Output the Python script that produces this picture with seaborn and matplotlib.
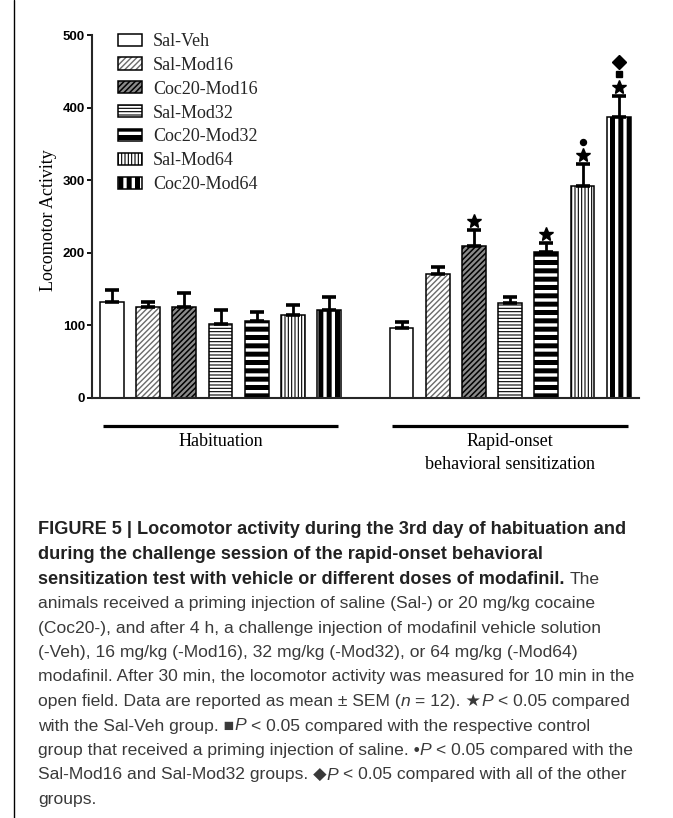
import pandas as pd
import matplotlib
matplotlib.use("Agg")
import matplotlib.pyplot as plt
import matplotlib.patches as mpatches
import matplotlib.colors as mcolors
from matplotlib.lines import Line2D
import seaborn as sns

# ---- data ----
treatments = ["Sal-Veh", "Sal-Mod16", "Coc20-Mod16", "Sal-Mod32",
              "Coc20-Mod32", "Sal-Mod64", "Coc20-Mod64"]
groups = ["Habituation", "Rapid-onset\nbehavioral sensitization"]
hab_mean = [132, 125, 125, 102, 106, 115, 121]
hab_sem = [17, 7, 20, 19, 12, 13, 18]
sens_mean = [96, 171, 209, 131, 201, 292, 387]
sens_sem = [9, 9, 22, 8, 12, 30, 29]
sens_marks = [[], [], ["star"], [], ["star"], ["star", "dot"],
              ["star", "square", "diamond"]]
yticks = [0, 100, 200, 300, 400, 500]

caption = [
    [("FIGURE 5 | Locomotor activity during the 3rd day of habituation and", "b")],
    [("during the challenge session of the rapid-onset behavioral", "b")],
    [("sensitization test with vehicle or different doses of modafinil.", "b"), (" The", "r")],
    [("animals received a priming injection of saline (Sal-) or 20 mg/kg cocaine", "r")],
    [("(Coc20-), and after 4 h, a challenge injection of modafinil vehicle solution", "r")],
    [("(-Veh), 16 mg/kg (-Mod16), 32 mg/kg (-Mod32), or 64 mg/kg (-Mod64)", "r")],
    [("modafinil. After 30 min, the locomotor activity was measured for 10 min in the", "r")],
    [("open field. Data are reported as mean \u00b1 SEM (", "r"), ("n", "i"),
     (" = 12). \u2605", "r"), ("P", "i"), (" < 0.05 compared", "r")],
    [("with the Sal-Veh group. \u25a0", "r"), ("P", "i"),
     (" < 0.05 compared with the respective control", "r")],
    [("group that received a priming injection of saline. \u2022", "r"), ("P", "i"),
     (" < 0.05 compared with the", "r")],
    [("Sal-Mod16 and Sal-Mod32 groups. \u25c6", "r"), ("P", "i"),
     (" < 0.05 compared with all of the other", "r")],
    [("groups.", "r")],
]

# ---- styles ----
styles = {
    "Sal-Veh": dict(face="white", hatch=None, hcolor="black", hlw=1),
    "Sal-Mod16": dict(face="white", hatch="//////", hcolor="#6a6a6a", hlw=1.0),
    "Coc20-Mod16": dict(face="#8a8a8a", hatch="//////", hcolor="black", hlw=1.1),
    "Sal-Mod32": dict(face="white", hatch="-----", hcolor="black", hlw=0.8),
    "Coc20-Mod32": dict(face="white", hatch="--", hcolor="black", hlw=3.6),
    "Sal-Mod64": dict(face="white", hatch="|||||", hcolor="black", hlw=0.8),
    "Coc20-Mod64": dict(face="white", hatch="||", hcolor="black", hlw=3.6),
}
mark_style = {"star": ("*", 10), "dot": ("o", 4.3), "square": ("s", 4.3),
              "diamond": ("D", 6.8)}


def style_patch(p, st):
    p.set_facecolor(st["face"])
    p.set_edgecolor("black")
    if st["hatch"]:
        p.set_hatch(st["hatch"])
        if hasattr(p, "set_hatchcolor"):
            p.set_hatchcolor(st["hcolor"])
        else:
            p._hatch_color = mcolors.to_rgba(st["hcolor"])
        if hasattr(p, "set_hatch_linewidth"):
            p.set_hatch_linewidth(st["hlw"])
        else:
            p._hatch_linewidth = st["hlw"]


sns.set_theme(style="ticks")
plt.rcParams["font.family"] = ["Liberation Sans", "DejaVu Sans"]
plt.rcParams["axes.linewidth"] = 1.5

fig = plt.figure(figsize=(6.73, 8.18), dpi=100)
W, H = 673, 818
ax = fig.add_axes([92 / W, 1 - 398 / H, (639 - 92) / W, 363 / H])

slots, means, sems, treat_of = [], [], [], {}
order = []
for g, (m_list, s_list) in enumerate([(hab_mean, hab_sem), (sens_mean, sens_sem)]):
    if g > 0:
        order.append("gap")
    for t, m, s in zip(treatments, m_list, s_list):
        key = f"{g}-{t}"
        slots.append(key)
        means.append(m)
        sems.append(s)
        order.append(key)
        treat_of[key] = t

df = pd.DataFrame({"slot": slots, "value": means})
sns.barplot(data=df, x="slot", y="value", order=order, errorbar=None,
            color="white", saturation=1, width=0.66, edgecolor="black",
            linewidth=1.1, ax=ax)

for p in ax.patches:
    idx = int(round(p.get_x() + p.get_width() / 2))
    style_patch(p, styles[treat_of[order[idx]]])

pos = [order.index(s) for s in slots]
ax.errorbar(pos, means, yerr=[[0] * len(sems), sems], fmt="none",
            ecolor="black", elinewidth=2, capsize=5, capthick=2.6, zorder=3)

# significance symbols above sensitization bars
n = len(treatments)
for i, marks in enumerate(sens_marks):
    top = sens_mean[i] + sens_sem[i]
    for k, mk in enumerate(marks):
        m, ms = mark_style[mk]
        ax.plot(pos[n + i], top + 13 + 17 * k, marker=m, ms=ms, color="black",
                ls="none", clip_on=False)

ax.set_xlim(-0.55, 14.56)
ax.set_ylim(0, 500)
ax.set_yticks(yticks)
ax.set_xticks([])
ax.set_xlabel("")
sns.despine(ax=ax)
ax.tick_params(axis="y", length=3.6, width=1.3, pad=1.5, labelsize=9.5,
               colors="black")
for lbl in ax.get_yticklabels():
    lbl.set_fontweight("bold")
ax.set_ylabel("Locomotor Activity", family="Liberation Serif", fontsize=13,
              color="black")
ax.yaxis.set_label_coords(-35 / 547, 0.49)

# group brackets and labels under the axis
trans = ax.get_xaxis_transform()
for g, name in enumerate(groups):
    gp = pos[g * n:(g + 1) * n]
    ax.plot([gp[0] - 0.25, gp[-1] + 0.25], [-0.077, -0.077], color="black",
            lw=2.3, transform=trans, clip_on=False, solid_capstyle="butt")
    ax.text((gp[0] + gp[-1]) / 2, -0.097, name, transform=trans, ha="center",
            va="top", family="Liberation Serif", fontsize=13, color="black",
            linespacing=1.45)

# legend
handles = []
for t in treatments:
    h = mpatches.Patch(label=t, linewidth=1.1)
    style_patch(h, styles[t])
    handles.append(h)
leg = ax.legend(handles=handles, loc="upper left",
                bbox_to_anchor=((118 - 92) / 547, (398 - 33) / 363),
                frameon=False, prop={"family": "Liberation Serif", "size": 13},
                handlelength=1.35, handleheight=0.65, labelspacing=0.38,
                handletextpad=0.6, borderaxespad=0, borderpad=0)
for lp, t in zip(leg.get_patches(), treatments):
    style_patch(lp, styles[t])

# caption
over = fig.add_axes([0, 0, 1, 1], zorder=-1)
over.set_axis_off()
size_b, size_r = 13.1, 12.6
for li, segs in enumerate(caption):
    y = 1 - (530 + 24.5 * li) / H
    prev = None
    prev_space = False
    for txt, st in segs:
        lead = txt.startswith(" ")
        fs = size_b if st == "b" else size_r
        kw = dict(fontsize=fs, color="#222222" if st == "b" else "#3a3a3a",
                  fontweight="bold" if st == "b" else "normal",
                  fontstyle="italic" if st == "i" else "normal")
        body = txt.strip(" ")
        if prev is None:
            prev = over.text(38 / W, y, body, transform=fig.transFigure,
                             ha="left", va="center", **kw)
        else:
            gap = 0.278 * size_r if (lead or prev_space) else 0
            prev = over.annotate(body, xy=(1, 0), xycoords=prev,
                                 xytext=(gap, 0), textcoords="offset points",
                                 ha="left", va="bottom", **kw)
        prev_space = txt.endswith(" ")

fig.add_artist(Line2D([14 / W, 14 / W], [0, 1], transform=fig.transFigure,
                      color="black", lw=1))

fig.savefig("out.png", dpi=100)
